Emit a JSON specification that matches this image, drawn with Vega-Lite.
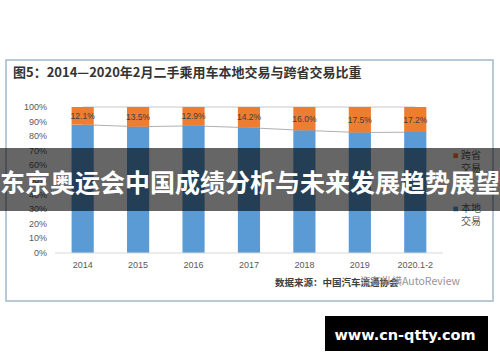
{
  "$schema": "https://vega.github.io/schema/vega-lite/v6.json",
  "width": 500,
  "height": 362,
  "padding": 0,
  "autosize": {"type": "none"},
  "background": "white",
  "config": {"view": {"stroke": null}, "font": "Liberation Sans, Noto Sans CJK SC"},
  "datasets": {
    "share": [
      {"year": "2014", "local": 0.879, "cross": 0.121},
      {"year": "2015", "local": 0.865, "cross": 0.135},
      {"year": "2016", "local": 0.871, "cross": 0.129},
      {"year": "2017", "local": 0.858, "cross": 0.142},
      {"year": "2018", "local": 0.840, "cross": 0.160},
      {"year": "2019", "local": 0.825, "cross": 0.175},
      {"year": "2020.1-2", "local": 0.828, "cross": 0.172}
    ],
    "yticks": [
      {"v": 0}, {"v": 0.1}, {"v": 0.2}, {"v": 0.3}, {"v": 0.4}, {"v": 0.5},
      {"v": 0.6}, {"v": 0.7}, {"v": 0.8}, {"v": 0.9}, {"v": 1}
    ]
  },
  "resolve": {"scale": {"x": "independent"}},
  "layer": [
    {
      "data": {"name": "share"},
      "transform": [{"calculate": "(datum.local + 1) / 2", "as": "mid"}],
      "encoding": {
        "x": {
          "field": "year", "type": "ordinal", "sort": null,
          "scale": {"domain": [" ", "2014", "2015", "2016", "2017", "2018", "2019", "2020.1-2", "  "], "paddingInner": 0.6, "paddingOuter": 0.31, "align": 0.47},
          "axis": {"orient": "bottom", "offset": -109, "domain": false, "ticks": false, "labelPadding": 7, "labelAngle": 0, "labelFontSize": 9, "labelColor": "#595959", "title": null}
        }
      },
      "layer": [
        {
          "mark": {"type": "line", "color": "#b0b0b0", "strokeWidth": 1},
          "encoding": {
            "y": {"field": "local", "type": "quantitative",
              "scale": {"domain": [-0.7466, 1.7329], "nice": false, "zero": false}, "axis": null}
          }
        },
        {
          "mark": {"type": "line", "color": "#c8c8c8", "strokeWidth": 1},
          "encoding": {
            "y": {"datum": 1, "type": "quantitative", "scale": {"domain": [-0.7466, 1.7329], "nice": false, "zero": false}, "axis": null}
          }
        },
        {
          "mark": {"type": "bar", "color": "#5B9BD5"},
          "encoding": {
            "y": {"field": "local", "type": "quantitative", "scale": {"domain": [-0.7466, 1.7329], "nice": false, "zero": false}, "axis": null},
            "y2": {"datum": 0}
          }
        },
        {
          "mark": {"type": "bar", "color": "#ED7D31"},
          "encoding": {
            "y": {"field": "local", "type": "quantitative", "scale": {"domain": [-0.7466, 1.7329], "nice": false, "zero": false}, "axis": null},
            "y2": {"datum": 1}
          }
        },
        {
          "mark": {"type": "text", "fontSize": 8.5, "color": "#404040", "baseline": "middle"},
          "encoding": {
            "y": {"field": "mid", "type": "quantitative", "scale": {"domain": [-0.7466, 1.7329], "nice": false, "zero": false}, "axis": null},
            "text": {"field": "cross", "type": "quantitative", "format": ".1%"}
          }
        }
      ]
    },
    {
      "data": {"values": [{"title": "图5：2014—2020年2月二手乘用车本地交易与跨省交易比重", "l1": "跨省\n交易", "l2": "本地\n交易", "src": "数据来源：中国汽车流通协会", "wm": "汽车纵横AutoReview", "band": "东京奥运会中国成绩分析与未来发展趋势展望", "url": "www.cn-qtty.com"}]},
      "layer": [
        {
          "mark": {"type": "rect", "filled": false, "stroke": "#a3b8ca", "strokeWidth": 1.5},
          "encoding": {
            "x": {"datum": 1.2, "type": "quantitative", "scale": {"domain": [0, 100], "nice": false, "zero": false}, "axis": null},
            "x2": {"datum": 98.6},
            "y": {"datum": 1.3219, "type": "quantitative", "scale": {"domain": [-0.7466, 1.7329], "nice": false, "zero": false}, "axis": null},
            "y2": {"datum": -0.3288}
          }
        },
        {
          "mark": {"type": "rule", "color": "#d9d9d9", "strokeWidth": 1},
          "encoding": {
            "x": {"datum": 11, "type": "quantitative", "scale": {"domain": [0, 100], "nice": false, "zero": false}, "axis": null},
            "x2": {"datum": 88.6},
            "y": {"datum": 0, "type": "quantitative", "scale": {"domain": [-0.7466, 1.7329], "nice": false, "zero": false}, "axis": null}
          }
        },
        {
          "data": {"name": "yticks"},
          "mark": {"type": "text", "align": "right", "baseline": "middle", "fontSize": 9, "color": "#595959"},
          "encoding": {
            "x": {"datum": 9.4, "type": "quantitative", "scale": {"domain": [0, 100], "nice": false, "zero": false}, "axis": null},
            "y": {"field": "v", "type": "quantitative", "scale": {"domain": [-0.7466, 1.7329], "nice": false, "zero": false}, "axis": null},
            "text": {"field": "v", "type": "quantitative", "format": ".0%"}
          }
        },
        {
          "mark": {"type": "text", "align": "left", "baseline": "middle", "fontSize": 13, "fontWeight": "bold", "color": "#333333", "font": "Noto Sans CJK SC"},
          "encoding": {
            "x": {"datum": 2.6, "type": "quantitative", "scale": {"domain": [0, 100], "nice": false, "zero": false}, "axis": null},
            "y": {"datum": 1.2329, "type": "quantitative", "scale": {"domain": [-0.7466, 1.7329], "nice": false, "zero": false}, "axis": null},
            "text": {"field": "title"}
          }
        },
        {
          "mark": {"type": "point", "shape": "square", "filled": true, "size": 22, "color": "#ED7D31", "opacity": 1},
          "encoding": {
            "x": {"datum": 91.14, "type": "quantitative", "scale": {"domain": [0, 100], "nice": false, "zero": false}, "axis": null},
            "y": {"datum": 0.6664, "type": "quantitative", "scale": {"domain": [-0.7466, 1.7329], "nice": false, "zero": false}, "axis": null}
          }
        },
        {
          "mark": {"type": "point", "shape": "square", "filled": true, "size": 22, "color": "#5B9BD5", "opacity": 1},
          "encoding": {
            "x": {"datum": 91.14, "type": "quantitative", "scale": {"domain": [0, 100], "nice": false, "zero": false}, "axis": null},
            "y": {"datum": 0.3014, "type": "quantitative", "scale": {"domain": [-0.7466, 1.7329], "nice": false, "zero": false}, "axis": null}
          }
        },
        {
          "mark": {"type": "text", "align": "left", "baseline": "top", "fontSize": 10, "lineHeight": 12.5, "lineBreak": "\n", "color": "#595959", "font": "Noto Sans CJK SC"},
          "encoding": {
            "x": {"datum": 92.2, "type": "quantitative", "scale": {"domain": [0, 100], "nice": false, "zero": false}, "axis": null},
            "y": {"datum": 0.6986, "type": "quantitative", "scale": {"domain": [-0.7466, 1.7329], "nice": false, "zero": false}, "axis": null},
            "text": {"field": "l1"}
          }
        },
        {
          "mark": {"type": "text", "align": "left", "baseline": "top", "fontSize": 10, "lineHeight": 12.5, "lineBreak": "\n", "color": "#595959", "font": "Noto Sans CJK SC"},
          "encoding": {
            "x": {"datum": 92.2, "type": "quantitative", "scale": {"domain": [0, 100], "nice": false, "zero": false}, "axis": null},
            "y": {"datum": 0.3356, "type": "quantitative", "scale": {"domain": [-0.7466, 1.7329], "nice": false, "zero": false}, "axis": null},
            "text": {"field": "l2"}
          }
        },
        {
          "mark": {"type": "text", "align": "left", "baseline": "middle", "fontSize": 9.5, "fontWeight": "bold", "color": "#404040", "font": "Noto Sans CJK SC"},
          "encoding": {
            "x": {"datum": 55, "type": "quantitative", "scale": {"domain": [0, 100], "nice": false, "zero": false}, "axis": null},
            "y": {"datum": -0.2055, "type": "quantitative", "scale": {"domain": [-0.7466, 1.7329], "nice": false, "zero": false}, "axis": null},
            "text": {"field": "src"}
          }
        },
        {
          "mark": {"type": "text", "align": "left", "baseline": "middle", "fontSize": 10.5, "color": "#8a8a8a", "opacity": 0.9, "font": "Noto Sans CJK SC"},
          "encoding": {
            "x": {"datum": 72, "type": "quantitative", "scale": {"domain": [0, 100], "nice": false, "zero": false}, "axis": null},
            "y": {"datum": -0.1986, "type": "quantitative", "scale": {"domain": [-0.7466, 1.7329], "nice": false, "zero": false}, "axis": null},
            "text": {"field": "wm"}
          }
        },
        {
          "mark": {"type": "rect", "color": "black", "opacity": 0.6},
          "encoding": {
            "x": {"datum": 0, "type": "quantitative", "scale": {"domain": [0, 100], "nice": false, "zero": false}, "axis": null},
            "x2": {"datum": 100},
            "y": {"datum": 0.7192, "type": "quantitative", "scale": {"domain": [-0.7466, 1.7329], "nice": false, "zero": false}, "axis": null},
            "y2": {"datum": 0.2877}
          }
        },
        {
          "mark": {"type": "text", "align": "center", "baseline": "middle", "fontSize": 25, "fontWeight": "bold", "color": "white", "font": "Noto Sans CJK SC"},
          "encoding": {
            "x": {"datum": 50, "type": "quantitative", "scale": {"domain": [0, 100], "nice": false, "zero": false}, "axis": null},
            "y": {"datum": 0.4726, "type": "quantitative", "scale": {"domain": [-0.7466, 1.7329], "nice": false, "zero": false}, "axis": null},
            "text": {"field": "band"}
          }
        },
        {
          "mark": {"type": "rect", "color": "black", "opacity": 1},
          "encoding": {
            "x": {"datum": 65, "type": "quantitative", "scale": {"domain": [0, 100], "nice": false, "zero": false}, "axis": null},
            "x2": {"datum": 97.6},
            "y": {"datum": -0.4315, "type": "quantitative", "scale": {"domain": [-0.7466, 1.7329], "nice": false, "zero": false}, "axis": null},
            "y2": {"datum": -0.6712}
          }
        },
        {
          "mark": {"type": "text", "align": "center", "baseline": "middle", "fontSize": 14.5, "fontWeight": "bold", "color": "white", "font": "DejaVu Sans"},
          "encoding": {
            "x": {"datum": 81, "type": "quantitative", "scale": {"domain": [0, 100], "nice": false, "zero": false}, "axis": null},
            "y": {"datum": -0.5685, "type": "quantitative", "scale": {"domain": [-0.7466, 1.7329], "nice": false, "zero": false}, "axis": null},
            "text": {"field": "url"}
          }
        }
      ]
    }
  ]
}
